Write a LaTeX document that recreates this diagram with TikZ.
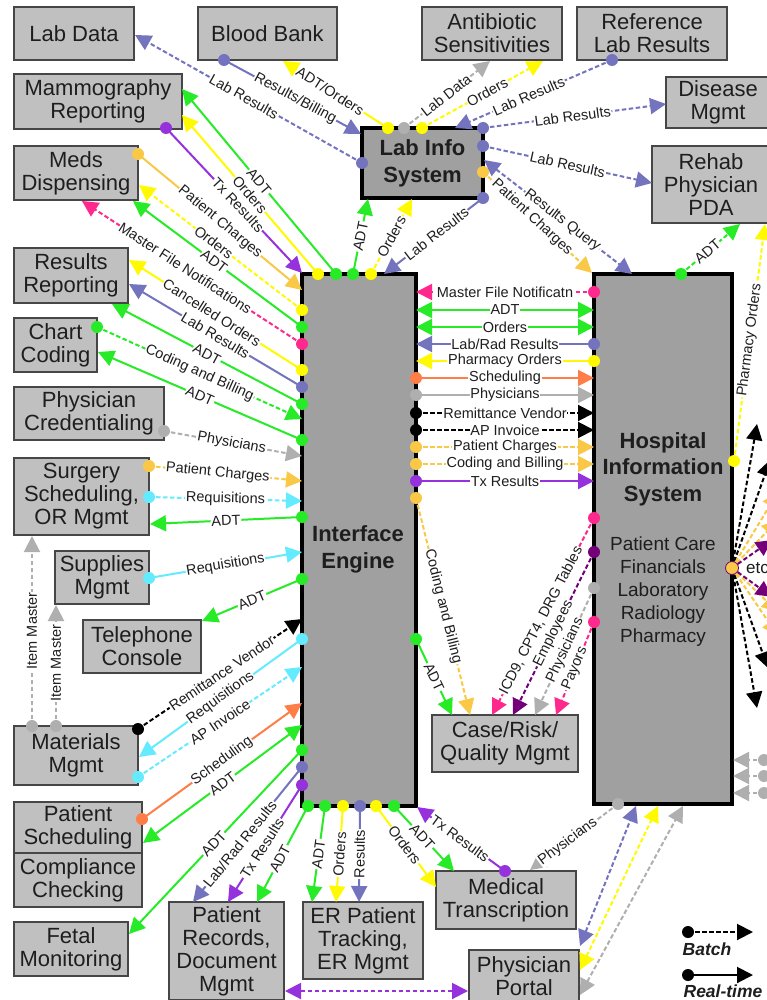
\documentclass[tikz,border=0pt]{standalone}
\usepackage{fontspec}
\setmainfont{Liberation Sans}
\usetikzlibrary{arrows.meta}
\definecolor{cg}{RGB}{40,235,40}
\definecolor{cy}{RGB}{255,250,0}
\definecolor{cb}{RGB}{115,115,190}
\definecolor{cp}{RGB}{150,50,220}
\definecolor{co}{RGB}{248,200,70}
\definecolor{ck}{RGB}{255,40,140}
\definecolor{cc}{RGB}{100,235,255}
\definecolor{ca}{RGB}{175,175,175}
\definecolor{cs}{RGB}{255,125,70}
\definecolor{cd}{RGB}{115,0,120}
\definecolor{boxfill}{RGB}{192,192,192}
\definecolor{dboxfill}{RGB}{160,160,160}
\definecolor{boxline}{RGB}{70,70,70}
\definecolor{txt}{RGB}{30,30,30}
\tikzset{
 >={Triangle[length=16pt,width=16pt]},
 box/.style={draw=boxline, line width=1.5pt, fill=boxfill, align=center, inner sep=0pt, outer sep=0pt, text=txt, font=\fontsize{22}{23}\selectfont},
 dbox/.style={draw=black, line width=4pt, fill=dboxfill, align=center, inner sep=0pt, outer sep=0pt, text=txt, font=\bfseries\fontsize{22}{27}\selectfont},
 ln/.style={line width=2pt, ->},
 dbl/.style={<->},
 bt/.style={dash pattern=on 4.5pt off 2.5pt},
 rt/.style={solid},
 lab/.style={sloped, fill=white, inner sep=0.8pt, text=txt, font=\fontsize{14.5}{14.5}\selectfont},
}
\newcommand\bx[6]{\node[box,minimum width=#4pt,minimum height=#5pt,anchor=north west] (#1) at (#2,#3) {#6};}
\newcommand\lkd[6]{\draw[ln,#1,#2] (#3) -- node[lab,pos=#5]{#6} (#4); \fill[#1] (#3) circle[radius=6pt];}
\newcommand\lk[6]{\draw[ln,#1,#2] (#3) -- node[lab,pos=#5]{#6} (#4);}
\newcommand\lkn[4]{\draw[ln,#1,#2] (#3) -- (#4);}
\newcommand\lkdn[4]{\draw[ln,#1,#2] (#3) -- (#4); \fill[#1] (#3) circle[radius=6pt];}
\begin{document}
\begin{tikzpicture}[x=1pt,y=-1pt]
\useasboundingbox[fill=white] (0,0) rectangle (767,1000);
% ---------- boxes ----------
\bx{labdata}{14}{7}{120}{53}{Lab Data}
\bx{bloodbank}{198}{7}{139}{53}{Blood Bank}
\bx{antibio}{422}{7}{140}{53}{Antibiotic\\Sensitivities}
\bx{reflab}{577}{7}{150}{53}{Reference\\Lab Results}
\bx{mammo}{14}{74}{168}{55}{Mammography\\Reporting}
\bx{meds}{14}{146}{124}{54}{Meds\\Dispensing}
\bx{disease}{666}{77}{104}{51}{Disease\\Mgmt}
\bx{rehab}{652}{146}{118}{77}{Rehab\\Physician\\PDA}
\bx{results}{14}{248}{114}{55}{Results\\Reporting}
\bx{chart}{14}{318}{83}{54}{Chart\\Coding}
\bx{physcred}{14}{387}{150}{53}{Physician\\Credentialing}
\bx{surgery}{14}{458}{135}{77}{Surgery\\Scheduling,\\OR Mgmt}
\bx{supplies}{55}{551}{94}{53}{Supplies\\Mgmt}
\bx{telephone}{83}{620}{118}{53}{Telephone\\Console}
\bx{materials}{14}{726}{124}{59}{Materials\\Mgmt}
\bx{patsched}{14}{802}{128}{51}{Patient\\Scheduling}
\bx{compliance}{14}{853}{128}{54}{Compliance\\Checking}
\bx{fetal}{14}{922}{114}{54}{Fetal\\Monitoring}
\bx{patrec}{169}{902}{115}{98}{Patient\\Records,\\Document\\Mgmt}
\bx{er}{303}{902}{120}{77}{ER Patient\\Tracking,\\ER Mgmt}
\bx{mt}{436}{871}{140}{58}{Medical\\Transcription}
\bx{portal}{469}{950}{110}{52}{Physician\\Portal}
\bx{case}{432}{715}{146}{57}{Case/Risk/\\Quality Mgmt}
\node[dbox,minimum width=121pt,minimum height=70pt,anchor=north west] (lis) at (362,128) {Lab Info\\System};
\node[dbox,minimum width=114pt,minimum height=532pt,anchor=north west] (ie) at (302,274) {};
\node[dbox,minimum width=138pt,minimum height=530pt,anchor=north west] (his) at (594,274) {};
\node[align=center,text=txt,font=\bfseries\fontsize{22}{27}\selectfont] (ietext) at (358,549) {Interface\\Engine};
\node[align=center,text=txt,font=\bfseries\fontsize{22}{26.5}\selectfont] (histitle) at (663,469) {Hospital\\Information\\System};
\node[align=center,text=txt,font=\fontsize{19}{23}\selectfont] (hisitems) at (663,592) {Patient Care\\Financials\\Laboratory\\Radiology\\Pharmacy};
% ---------- ports ----------
\coordinate (lisBB) at (361,134); \coordinate (lisL) at (362,163);
\coordinate (lisT1) at (388,128); \coordinate (lisT2) at (404,128);
\coordinate (lisT3) at (422,128); \coordinate (lisT4) at (455,128);
\coordinate (lisR1) at (483,128); \coordinate (lisR2) at (483,146);
\coordinate (lisR3) at (484,160); \coordinate (lisR4) at (483,172);
\coordinate (lisR5) at (483,198); \coordinate (lisB1) at (368,199);
\coordinate (lisB2) at (412,199);
\coordinate (bbD) at (224,60); \coordinate (bbT) at (283,61);
\coordinate (ldT) at (135,35);
\coordinate (abT1) at (490,61); \coordinate (abT2) at (543,61);
\coordinate (rlD) at (612,60); \coordinate (dmT) at (666,104);
\coordinate (rhT1) at (652,183); \coordinate (rhT2) at (740,224); \coordinate (rhT3) at (765,224);
\coordinate (hisT1) at (592,273); \coordinate (hisT2) at (632,274); \coordinate (hisT3) at (681,274);
\coordinate (hisR1) at (734,461); \coordinate (hisR2) at (732,568);
\coordinate (hisB1) at (618,804); \coordinate (hisB2) at (636,806);
\coordinate (hisB3) at (658,806); \coordinate (hisB4) at (683,806);
\coordinate (ieT1) at (318,274); \coordinate (ieT2) at (336,274);
\coordinate (ieT3) at (353,274); \coordinate (ieT4) at (371,274);
\coordinate (ieT5) at (384,274); \coordinate (ieTL) at (302,273);
\foreach \n/\y in {1/290,2/310,3/327,4/344,5/370,6/387,7/404,8/419,9/440,10/456,11/481,12/501,13/517,14/552,15/579,16/619,17/639,18/667,19/703,20/725,21/750,22/767,23/785}
  {\coordinate (ieL\n) at (302,\y);}
\foreach \n/\y in {1/292,2/310,3/327,4/344,5/361,6/378,7/395,8/413,9/430,10/447,11/464,12/481,13/498,14/639}
  {\coordinate (ieR\n) at (416,\y);}
\foreach \n/\y in {1/292,2/310,3/327,4/344,5/361,6/378,7/395,8/413,9/430,10/447,11/464,12/481,13/518,14/552,15/588,16/622}
  {\coordinate (hisL\n) at (594,\y);}
\coordinate (ieB1) at (308,806); \coordinate (ieB2) at (325,806);
\coordinate (ieB3) at (343,806); \coordinate (ieB4) at (360,806);
\coordinate (ieB5) at (376,806); \coordinate (ieB6) at (394,806);
\coordinate (ieB7) at (417,807);
\coordinate (caT1) at (452,715); \coordinate (caT2) at (470,715); \coordinate (caT3) at (492,715);
\coordinate (caT4) at (513,715); \coordinate (caT5) at (535,715); \coordinate (caT6) at (556,715);
\coordinate (maT1) at (182,89); \coordinate (maT2) at (182,115); \coordinate (maD) at (166,128);
\coordinate (meD) at (138,154); \coordinate (meT1) at (139,185); \coordinate (meT2) at (133,201); \coordinate (meT3) at (82,201);
\coordinate (reT1) at (129,260); \coordinate (reT2) at (129,284); \coordinate (reT3) at (112,304);
\coordinate (chD) at (97,327); \coordinate (chT) at (98,352);
\coordinate (pcD) at (164,431);
\coordinate (suD1) at (149,466); \coordinate (suD2) at (149,497); \coordinate (suT) at (150,524); \coordinate (suT2) at (32,536);
\coordinate (spD) at (149,578); \coordinate (spT) at (56,605);
\coordinate (teT) at (202,621);
\coordinate (mmD1) at (138,729); \coordinate (mmT) at (139,757); \coordinate (mmD2) at (138,777);
\coordinate (mmD3) at (32,726); \coordinate (mmD4) at (56,726);
\coordinate (psD) at (142,819); \coordinate (psT) at (143,843);
\coordinate (feT) at (129,934);
\coordinate (prT1) at (193,902); \coordinate (prT2) at (228,902); \coordinate (prT3) at (257,902); \coordinate (prR) at (285,991);
\coordinate (erT1) at (312,902); \coordinate (erT2) at (336,902); \coordinate (erT3) at (359,902);
\coordinate (mtT1) at (436,887); \coordinate (mtT2) at (454,871); \coordinate (mtD) at (505,871); \coordinate (mtT3) at (530,870);
\coordinate (poL) at (468,991); \coordinate (poR1) at (580,946); \coordinate (poR2) at (580,970); \coordinate (poR3) at (580,995);
\foreach \n/\y in {1/760,2/776,3/793}{\coordinate (hgD\n) at (764,\y); \coordinate (hgT\n) at (733,\y);}
\coordinate (f1) at (757,424); \coordinate (f2) at (770,460); \coordinate (f3) at (778,492);
\coordinate (f4) at (778,520); \coordinate (f5) at (772,540); \coordinate (f6) at (772,597);
\coordinate (f7) at (778,612); \coordinate (f8) at (778,636); \coordinate (f9) at (768,668);
\coordinate (f10) at (757,708);
\coordinate (lg1) at (688,932); \coordinate (lg2) at (753,932);
\coordinate (lg3) at (688,975); \coordinate (lg4) at (753,975);
% ---------- connectors: top ----------
\lkd{cb}{rt}{bbD}{lisBB}{0.52}{Results/Billing}
\lkd{cb}{bt}{lisL}{ldT}{0.52}{Lab Results}
\lkd{cy}{rt}{lisT1}{bbT}{0.55}{ADT/Orders}
\lkd{ca}{bt}{lisT2}{abT1}{0.49}{Lab Data}
\lkd{cy}{bt}{lisT3}{abT2}{0.54}{Orders}
\lkd{cb}{bt}{rlD}{lisT4}{0.53}{Lab Results}
\lkd{cb}{bt}{lisR1}{dmT}{0.49}{Lab Results}
\lkd{cb}{bt}{lisR2}{rhT1}{0.5}{Lab Results}
\lkd{co}{bt}{lisR4}{hisT1}{0.45}{Patient Charges}
\lk{cb}{bt,dbl}{lisR3}{hisT2}{0.53}{Results Query}
\lkd{cb}{rt}{lisR5}{ieT5}{0.47}{Lab Results}
\lkd{cg}{rt}{ieT3}{lisB1}{0.5}{ADT}
\lkd{cy}{bt}{ieT4}{lisB2}{0.5}{Orders}
% ---------- left fan ----------
\lkd{cg}{rt}{ieT2}{maT1}{0.5}{ADT}
\lkd{cy}{rt}{ieT1}{maT2}{0.5}{Orders}
\lkd{cp}{rt}{maD}{ieTL}{0.53}{Tx Results}
\lkd{co}{rt}{meD}{ieL1}{0.5}{Patient Charges}
\lkd{cy}{bt}{ieL2}{meT1}{0.54}{Orders}
\lkd{cg}{rt}{ieL3}{meT2}{0.52}{ADT}
\lkd{ck}{bt}{ieL4}{meT3}{0.53}{Master File Notifications}
\lkd{cy}{rt}{ieL5}{reT1}{0.52}{Cancelled Orders}
\lkd{cb}{rt}{ieL6}{reT2}{0.5}{Lab Results}
\lkd{cg}{rt}{ieL7}{reT3}{0.5}{ADT}
\lkd{cg}{bt}{chD}{ieL8}{0.5}{Coding and Billing}
\lkd{cg}{rt}{ieL9}{chT}{0.5}{ADT}
\lkd{ca}{bt}{pcD}{ieL10}{0.49}{Physicians}
\lkd{co}{bt}{suD1}{ieL11}{0.45}{Patient Charges}
\lkd{cc}{bt}{suD2}{ieL12}{0.5}{Requisitions}
\lkd{cg}{rt}{ieL13}{suT}{0.5}{ADT}
\lkd{cc}{rt}{spD}{ieL14}{0.5}{Requisitions}
\lkd{cg}{rt}{ieL15}{teT}{0.5}{ADT}
\lkd{black}{bt}{mmD1}{ieL16}{0.51}{Remittance Vendor}
\lkd{cc}{rt}{ieL17}{mmT}{0.5}{Requisitions}
\lkd{cc}{bt}{mmD2}{ieL18}{0.5}{AP Invoice}
\lkd{cs}{rt}{psD}{ieL19}{0.5}{Scheduling}
\lk{cg}{rt,dbl}{psT}{ieL20}{0.5}{ADT}
\lkd{cg}{rt}{ieL21}{feT}{0.51}{ADT}
\lkd{cb}{rt}{ieL22}{prT1}{0.57}{Lab/Rad Results}
\lkd{cp}{rt}{ieL23}{prT2}{0.54}{Tx Results}
\lkd{ca}{bt}{mmD3}{suT2}{0.5}{Item Master}
\lkd{ca}{bt}{mmD4}{spT}{0.52}{Item Master}
% ---------- bottom ----------
\lkd{cg}{rt}{ieB1}{prT3}{0.55}{ADT}
\lkd{cg}{rt}{ieB2}{erT1}{0.5}{ADT}
\lkd{cy}{rt}{ieB3}{erT2}{0.5}{Orders}
\lkd{cb}{rt}{ieB4}{erT3}{0.5}{Results}
\lkd{cy}{rt}{ieB5}{mtT1}{0.48}{Orders}
\lkd{cg}{rt}{ieB6}{mtT2}{0.47}{ADT}
\lkd{cp}{rt}{mtD}{ieB7}{0.51}{Tx Results}
\lkn{cp}{bt,dbl}{prR}{poL}
\lkd{ca}{bt}{hisB1}{mtT3}{0.57}{Physicians}
\lkn{cb}{bt,dbl}{poR1}{hisB2}
\lkn{cy}{bt,dbl}{poR2}{hisB3}
\lkn{ca}{bt,dbl}{poR3}{hisB4}
% ---------- middle ----------
\lkd{ck}{bt}{hisL1}{ieR1}{0.5}{Master File Notificatn}
\lk{cg}{rt,dbl}{ieR2}{hisL2}{0.5}{ADT}
\lk{cg}{rt,dbl}{ieR3}{hisL3}{0.5}{Orders}
\lkd{cb}{rt}{hisL4}{ieR4}{0.5}{Lab/Rad Results}
\lkd{cy}{rt}{hisL5}{ieR5}{0.5}{Pharmacy Orders}
\lkd{cs}{rt}{ieR6}{hisL6}{0.5}{Scheduling}
\lkd{ca}{rt}{ieR7}{hisL7}{0.5}{Physicians}
\lkd{black}{bt}{ieR8}{hisL8}{0.5}{Remittance Vendor}
\lkd{black}{bt}{ieR9}{hisL9}{0.5}{AP Invoice}
\lkd{co}{bt}{ieR10}{hisL10}{0.5}{Patient Charges}
\lkd{co}{bt}{ieR11}{hisL11}{0.5}{Coding and Billing}
\lkd{cp}{rt}{ieR12}{hisL12}{0.5}{Tx Results}
% ---------- case ----------
\lkd{co}{bt}{ieR13}{caT2}{0.5}{Coding and Billing}
\lkd{cg}{rt}{ieR14}{caT1}{0.5}{ADT}
\lkd{ck}{bt}{hisL13}{caT3}{0.52}{ICD9, CPT4, DRG Tables}
\lkd{cd}{bt}{hisL14}{caT4}{0.5}{Employees}
\lkd{ca}{bt}{hisL15}{caT5}{0.49}{Physicians}
\lkd{ck}{bt}{hisL16}{caT6}{0.5}{Payors}
% ---------- HIS top / right ----------
\lkd{cg}{bt}{hisT3}{rhT2}{0.45}{ADT}
\lkd{cy}{bt}{hisR1}{rhT3}{0.51}{Pharmacy Orders}
\foreach \f in {f1,f2,f9,f10}{\lkn{black}{bt}{hisR2}{\f}}
\foreach \f in {f3,f4,f7,f8}{\lkn{co}{bt}{hisR2}{\f}}
\foreach \f in {f5,f6}{\lkn{cd}{bt}{hisR2}{\f}}
\filldraw[fill=co,draw=cd,line width=0.8pt] (hisR2) circle[radius=6.5pt];
\node[anchor=west,text=txt,font=\fontsize{17}{17}\selectfont,fill=white,inner sep=1pt] (etc) at (745,568) {etc};
\foreach \n in {1,2,3}{\lkdn{ca}{bt}{hgD\n}{hgT\n}}
% ---------- legend ----------
\lkdn{black}{bt}{lg1}{lg2}
\lkdn{black}{rt}{lg3}{lg4}
\node[text=txt,font=\bfseries\itshape\fontsize{17.5}{17.5}\selectfont] (legbatch) at (707,949) {Batch};
\node[text=txt,font=\bfseries\itshape\fontsize{17.5}{17.5}\selectfont] (legreal) at (723,991) {Real-time};
\end{tikzpicture}
\end{document}
